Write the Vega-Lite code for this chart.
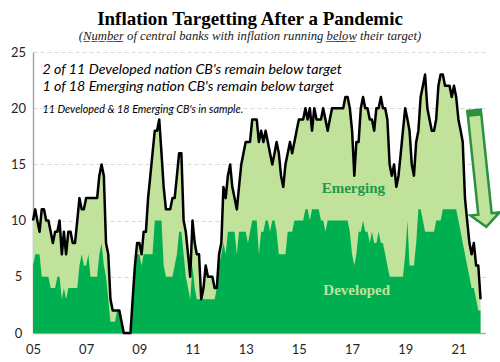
{
  "$schema": "https://vega.github.io/schema/vega-lite/v6.json",
  "width": 452,
  "height": 281,
  "autosize": {"type": "none"},
  "padding": {"left": 33, "top": 52, "right": 15, "bottom": 29},
  "background": "white",
  "config": {"view": {"stroke": null}},
  "title": {
    "text": "Inflation Targetting After a Pandemic",
    "subtitle": "(N̲u̲m̲b̲e̲r̲ of central banks with inflation running b̲e̲l̲o̲w̲ their target)",
    "font": "Liberation Serif",
    "fontSize": 19,
    "fontWeight": "bold",
    "color": "#000000",
    "subtitleFont": "Liberation Serif",
    "subtitleFontStyle": "italic",
    "subtitleFontSize": 12.7,
    "subtitleColor": "#1a1a1a",
    "subtitlePadding": 1,
    "anchor": "middle",
    "offset": 3,
    "dx": -9
  },
  "datasets": {
    "series": [
      {"date": "2005-01-01", "total": 10, "developed": 6},
      {"date": "2005-02-01", "total": 11, "developed": 7},
      {"date": "2005-03-01", "total": 10, "developed": 7},
      {"date": "2005-04-01", "total": 9, "developed": 7},
      {"date": "2005-05-01", "total": 11, "developed": 5},
      {"date": "2005-06-01", "total": 11, "developed": 5},
      {"date": "2005-07-01", "total": 10, "developed": 5},
      {"date": "2005-08-01", "total": 10, "developed": 5},
      {"date": "2005-09-01", "total": 9, "developed": 4},
      {"date": "2005-10-01", "total": 8, "developed": 4},
      {"date": "2005-11-01", "total": 9, "developed": 4},
      {"date": "2005-12-01", "total": 9, "developed": 5},
      {"date": "2006-01-01", "total": 10, "developed": 5},
      {"date": "2006-02-01", "total": 7, "developed": 3},
      {"date": "2006-03-01", "total": 9, "developed": 4},
      {"date": "2006-04-01", "total": 7, "developed": 3},
      {"date": "2006-05-01", "total": 9, "developed": 4},
      {"date": "2006-06-01", "total": 9, "developed": 4},
      {"date": "2006-07-01", "total": 8, "developed": 4},
      {"date": "2006-08-01", "total": 8, "developed": 4},
      {"date": "2006-09-01", "total": 10, "developed": 4},
      {"date": "2006-10-01", "total": 12, "developed": 6},
      {"date": "2006-11-01", "total": 11, "developed": 7},
      {"date": "2006-12-01", "total": 11, "developed": 6},
      {"date": "2007-01-01", "total": 12, "developed": 6},
      {"date": "2007-02-01", "total": 12, "developed": 7},
      {"date": "2007-03-01", "total": 12, "developed": 5},
      {"date": "2007-04-01", "total": 12, "developed": 5},
      {"date": "2007-05-01", "total": 12, "developed": 5},
      {"date": "2007-06-01", "total": 12, "developed": 5},
      {"date": "2007-07-01", "total": 14, "developed": 7},
      {"date": "2007-08-01", "total": 15, "developed": 8},
      {"date": "2007-09-01", "total": 14, "developed": 6},
      {"date": "2007-10-01", "total": 8, "developed": 5},
      {"date": "2007-11-01", "total": 7, "developed": 3},
      {"date": "2007-12-01", "total": 3, "developed": 1},
      {"date": "2008-01-01", "total": 2, "developed": 1},
      {"date": "2008-02-01", "total": 2, "developed": 1},
      {"date": "2008-03-01", "total": 2, "developed": 2},
      {"date": "2008-04-01", "total": 2, "developed": 2},
      {"date": "2008-05-01", "total": 1, "developed": 1},
      {"date": "2008-06-01", "total": 0, "developed": 0},
      {"date": "2008-07-01", "total": 0, "developed": 0},
      {"date": "2008-08-01", "total": 0, "developed": 0},
      {"date": "2008-09-01", "total": 0, "developed": 0},
      {"date": "2008-10-01", "total": 3, "developed": 3},
      {"date": "2008-11-01", "total": 6, "developed": 6},
      {"date": "2008-12-01", "total": 8, "developed": 7},
      {"date": "2009-01-01", "total": 8, "developed": 7},
      {"date": "2009-02-01", "total": 7, "developed": 6},
      {"date": "2009-03-01", "total": 9, "developed": 7},
      {"date": "2009-04-01", "total": 9, "developed": 7},
      {"date": "2009-05-01", "total": 12, "developed": 7},
      {"date": "2009-06-01", "total": 14, "developed": 7},
      {"date": "2009-07-01", "total": 16, "developed": 7},
      {"date": "2009-08-01", "total": 18, "developed": 10},
      {"date": "2009-09-01", "total": 18, "developed": 10},
      {"date": "2009-10-01", "total": 19, "developed": 10},
      {"date": "2009-11-01", "total": 16, "developed": 10},
      {"date": "2009-12-01", "total": 13, "developed": 6},
      {"date": "2010-01-01", "total": 11, "developed": 5},
      {"date": "2010-02-01", "total": 11, "developed": 5},
      {"date": "2010-03-01", "total": 11, "developed": 5},
      {"date": "2010-04-01", "total": 12, "developed": 5},
      {"date": "2010-05-01", "total": 12, "developed": 6},
      {"date": "2010-06-01", "total": 14, "developed": 7},
      {"date": "2010-07-01", "total": 16, "developed": 9},
      {"date": "2010-08-01", "total": 16, "developed": 9},
      {"date": "2010-09-01", "total": 10, "developed": 7},
      {"date": "2010-10-01", "total": 9, "developed": 5},
      {"date": "2010-11-01", "total": 7, "developed": 4},
      {"date": "2010-12-01", "total": 5, "developed": 3},
      {"date": "2011-01-01", "total": 10, "developed": 6},
      {"date": "2011-02-01", "total": 8, "developed": 4},
      {"date": "2011-03-01", "total": 7, "developed": 3},
      {"date": "2011-04-01", "total": 7, "developed": 3},
      {"date": "2011-05-01", "total": 3, "developed": 3},
      {"date": "2011-06-01", "total": 4, "developed": 3},
      {"date": "2011-07-01", "total": 6, "developed": 3},
      {"date": "2011-08-01", "total": 5, "developed": 3},
      {"date": "2011-09-01", "total": 5, "developed": 3},
      {"date": "2011-10-01", "total": 5, "developed": 3},
      {"date": "2011-11-01", "total": 4, "developed": 3},
      {"date": "2011-12-01", "total": 4, "developed": 4},
      {"date": "2012-01-01", "total": 7, "developed": 6},
      {"date": "2012-02-01", "total": 8, "developed": 7},
      {"date": "2012-03-01", "total": 13, "developed": 8},
      {"date": "2012-04-01", "total": 12, "developed": 7},
      {"date": "2012-05-01", "total": 14, "developed": 9},
      {"date": "2012-06-01", "total": 15, "developed": 9},
      {"date": "2012-07-01", "total": 13, "developed": 9},
      {"date": "2012-08-01", "total": 12, "developed": 9},
      {"date": "2012-09-01", "total": 11, "developed": 7},
      {"date": "2012-10-01", "total": 13, "developed": 9},
      {"date": "2012-11-01", "total": 15, "developed": 9},
      {"date": "2012-12-01", "total": 16, "developed": 9},
      {"date": "2013-01-01", "total": 17, "developed": 9},
      {"date": "2013-02-01", "total": 17, "developed": 8},
      {"date": "2013-03-01", "total": 17, "developed": 9},
      {"date": "2013-04-01", "total": 19, "developed": 10},
      {"date": "2013-05-01", "total": 19, "developed": 10},
      {"date": "2013-06-01", "total": 19, "developed": 10},
      {"date": "2013-07-01", "total": 17, "developed": 7},
      {"date": "2013-08-01", "total": 18, "developed": 9},
      {"date": "2013-09-01", "total": 17, "developed": 9},
      {"date": "2013-10-01", "total": 18, "developed": 10},
      {"date": "2013-11-01", "total": 17, "developed": 10},
      {"date": "2013-12-01", "total": 16, "developed": 9},
      {"date": "2014-01-01", "total": 15, "developed": 10},
      {"date": "2014-02-01", "total": 16, "developed": 10},
      {"date": "2014-03-01", "total": 17, "developed": 9},
      {"date": "2014-04-01", "total": 16, "developed": 7},
      {"date": "2014-05-01", "total": 14, "developed": 7},
      {"date": "2014-06-01", "total": 13, "developed": 7},
      {"date": "2014-07-01", "total": 15, "developed": 7},
      {"date": "2014-08-01", "total": 16, "developed": 9},
      {"date": "2014-09-01", "total": 17, "developed": 9},
      {"date": "2014-10-01", "total": 16, "developed": 9},
      {"date": "2014-11-01", "total": 17, "developed": 10},
      {"date": "2014-12-01", "total": 18, "developed": 10},
      {"date": "2015-01-01", "total": 19, "developed": 10},
      {"date": "2015-02-01", "total": 19, "developed": 10},
      {"date": "2015-03-01", "total": 19, "developed": 10},
      {"date": "2015-04-01", "total": 20, "developed": 11},
      {"date": "2015-05-01", "total": 19, "developed": 11},
      {"date": "2015-06-01", "total": 20, "developed": 10},
      {"date": "2015-07-01", "total": 18, "developed": 11},
      {"date": "2015-08-01", "total": 20, "developed": 11},
      {"date": "2015-09-01", "total": 19, "developed": 11},
      {"date": "2015-10-01", "total": 19, "developed": 11},
      {"date": "2015-11-01", "total": 19, "developed": 10},
      {"date": "2015-12-01", "total": 20, "developed": 10},
      {"date": "2016-01-01", "total": 19, "developed": 9},
      {"date": "2016-02-01", "total": 18, "developed": 10},
      {"date": "2016-03-01", "total": 19, "developed": 10},
      {"date": "2016-04-01", "total": 20, "developed": 10},
      {"date": "2016-05-01", "total": 20, "developed": 10},
      {"date": "2016-06-01", "total": 20, "developed": 10},
      {"date": "2016-07-01", "total": 20, "developed": 10},
      {"date": "2016-08-01", "total": 20, "developed": 10},
      {"date": "2016-09-01", "total": 20, "developed": 10},
      {"date": "2016-10-01", "total": 21, "developed": 10},
      {"date": "2016-11-01", "total": 21, "developed": 10},
      {"date": "2016-12-01", "total": 20, "developed": 9},
      {"date": "2017-01-01", "total": 18, "developed": 7},
      {"date": "2017-02-01", "total": 14, "developed": 6},
      {"date": "2017-03-01", "total": 17, "developed": 7},
      {"date": "2017-04-01", "total": 17, "developed": 9},
      {"date": "2017-05-01", "total": 20, "developed": 9},
      {"date": "2017-06-01", "total": 21, "developed": 10},
      {"date": "2017-07-01", "total": 20, "developed": 9},
      {"date": "2017-08-01", "total": 20, "developed": 9},
      {"date": "2017-09-01", "total": 19, "developed": 8},
      {"date": "2017-10-01", "total": 19, "developed": 9},
      {"date": "2017-11-01", "total": 18, "developed": 8},
      {"date": "2017-12-01", "total": 20, "developed": 8},
      {"date": "2018-01-01", "total": 20, "developed": 9},
      {"date": "2018-02-01", "total": 21, "developed": 8},
      {"date": "2018-03-01", "total": 20, "developed": 8},
      {"date": "2018-04-01", "total": 20, "developed": 7},
      {"date": "2018-05-01", "total": 19, "developed": 6},
      {"date": "2018-06-01", "total": 15, "developed": 5},
      {"date": "2018-07-01", "total": 14, "developed": 5},
      {"date": "2018-08-01", "total": 15, "developed": 5},
      {"date": "2018-09-01", "total": 13, "developed": 5},
      {"date": "2018-10-01", "total": 14, "developed": 5},
      {"date": "2018-11-01", "total": 16, "developed": 5},
      {"date": "2018-12-01", "total": 18, "developed": 5},
      {"date": "2019-01-01", "total": 20, "developed": 7},
      {"date": "2019-02-01", "total": 19, "developed": 10},
      {"date": "2019-03-01", "total": 18, "developed": 6},
      {"date": "2019-04-01", "total": 15, "developed": 6},
      {"date": "2019-05-01", "total": 14, "developed": 6},
      {"date": "2019-06-01", "total": 17, "developed": 8},
      {"date": "2019-07-01", "total": 18, "developed": 11},
      {"date": "2019-08-01", "total": 21, "developed": 11},
      {"date": "2019-09-01", "total": 22, "developed": 10},
      {"date": "2019-10-01", "total": 23, "developed": 9},
      {"date": "2019-11-01", "total": 20, "developed": 9},
      {"date": "2019-12-01", "total": 19, "developed": 9},
      {"date": "2020-01-01", "total": 18, "developed": 9},
      {"date": "2020-02-01", "total": 18, "developed": 9},
      {"date": "2020-03-01", "total": 19, "developed": 10},
      {"date": "2020-04-01", "total": 22, "developed": 10},
      {"date": "2020-05-01", "total": 23, "developed": 10},
      {"date": "2020-06-01", "total": 23, "developed": 11},
      {"date": "2020-07-01", "total": 22, "developed": 11},
      {"date": "2020-08-01", "total": 22, "developed": 11},
      {"date": "2020-09-01", "total": 22, "developed": 11},
      {"date": "2020-10-01", "total": 21, "developed": 11},
      {"date": "2020-11-01", "total": 22, "developed": 11},
      {"date": "2020-12-01", "total": 21, "developed": 11},
      {"date": "2021-01-01", "total": 19, "developed": 10},
      {"date": "2021-02-01", "total": 18, "developed": 9},
      {"date": "2021-03-01", "total": 17, "developed": 8},
      {"date": "2021-04-01", "total": 12, "developed": 7},
      {"date": "2021-05-01", "total": 10, "developed": 6},
      {"date": "2021-06-01", "total": 8, "developed": 5},
      {"date": "2021-07-01", "total": 7, "developed": 4},
      {"date": "2021-08-01", "total": 8, "developed": 4},
      {"date": "2021-09-01", "total": 6, "developed": 3},
      {"date": "2021-10-01", "total": 6, "developed": 2},
      {"date": "2021-11-01", "total": 3, "developed": 2}
    ]
  },
  "layer": [
    {
      "data": {"name": "series"},
      "mark": {"type": "area", "color": "#c0e29a", "opacity": 1},
      "encoding": {
        "x": {
          "field": "date", "type": "temporal",
          "scale": {"type": "utc", "domain": [{"year": 2005, "month": 1, "date": 1, "utc": true}, {"year": 2022, "month": 1, "date": 1, "utc": true}]},
          "axis": {
            "title": null,
            "values": [
              {"year": 2005, "month": 1, "date": 1, "utc": true},
              {"year": 2007, "month": 1, "date": 1, "utc": true},
              {"year": 2009, "month": 1, "date": 1, "utc": true},
              {"year": 2011, "month": 1, "date": 1, "utc": true},
              {"year": 2013, "month": 1, "date": 1, "utc": true},
              {"year": 2015, "month": 1, "date": 1, "utc": true},
              {"year": 2017, "month": 1, "date": 1, "utc": true},
              {"year": 2019, "month": 1, "date": 1, "utc": true},
              {"year": 2021, "month": 1, "date": 1, "utc": true}
            ],
            "labelExpr": "utcFormat(datum.value, '%y')",
            "grid": false,
            "ticks": false,
            "domainColor": "#a6a6a6",
            "domainWidth": 1.5,
            "labelFont": "Lato",
            "labelFontSize": 13,
            "labelColor": "#262626",
            "labelPadding": 10,
            "labelFlush": false
          }
        },
        "y": {
          "field": "total", "type": "quantitative",
          "scale": {"domain": [0, 25], "nice": false},
          "axis": {
            "title": null,
            "values": [0, 5, 10, 15, 20, 25],
            "grid": true,
            "gridDash": [4, 3],
            "gridColor": "#d9d9d9",
            "ticks": false,
            "domainColor": "#a6a6a6",
            "domainWidth": 1.5,
            "labelFont": "Lato",
            "labelFontSize": 13,
            "labelColor": "#262626",
            "labelAlign": "center",
            "labelPadding": 15
          }
        }
      }
    },
    {
      "data": {"name": "series"},
      "mark": {"type": "area", "color": "#00b050", "opacity": 1},
      "encoding": {
        "x": {"field": "date", "type": "temporal"},
        "y": {"field": "developed", "type": "quantitative"}
      }
    },
    {
      "data": {"name": "series"},
      "mark": {"type": "line", "color": "#000000", "strokeWidth": 2.5, "strokeJoin": "round"},
      "encoding": {
        "x": {"field": "date", "type": "temporal"},
        "y": {"field": "total", "type": "quantitative"}
      }
    },
    {
      "data": {"values": [
        {"date": "2005-05-10", "value": 23.4, "label": "2 of 11 Developed nation CB's remain below target"},
        {"date": "2005-05-10", "value": 21.9, "label": "1 of 18 Emerging nation CB's remain below target"}
      ]},
      "mark": {"type": "text", "align": "left", "baseline": "middle", "font": "Lato", "fontStyle": "italic", "fontSize": 14.2, "color": "#000000"},
      "encoding": {
        "x": {"field": "date", "type": "temporal"},
        "y": {"field": "value", "type": "quantitative"},
        "text": {"field": "label"}
      }
    },
    {
      "data": {"values": [
        {"date": "2005-05-10", "value": 19.85, "label": "11 Developed & 18 Emerging CB's in sample."}
      ]},
      "mark": {"type": "text", "align": "left", "baseline": "middle", "font": "Lato", "fontStyle": "italic", "fontSize": 10.8, "color": "#000000"},
      "encoding": {
        "x": {"field": "date", "type": "temporal"},
        "y": {"field": "value", "type": "quantitative"},
        "text": {"field": "label"}
      }
    },
    {
      "data": {"values": [
        {"date": "2017-01-18", "value": 12.9, "label": "Emerging"}
      ]},
      "mark": {"type": "text", "align": "center", "baseline": "middle", "font": "Liberation Serif", "fontWeight": "bold", "fontSize": 15, "color": "#1f9a48"},
      "encoding": {
        "x": {"field": "date", "type": "temporal"},
        "y": {"field": "value", "type": "quantitative"},
        "text": {"field": "label"}
      }
    },
    {
      "data": {"values": [
        {"date": "2017-03-05", "value": 3.8, "label": "Developed"}
      ]},
      "mark": {"type": "text", "align": "center", "baseline": "middle", "font": "Liberation Serif", "fontWeight": "bold", "fontSize": 15, "color": "#c0e29a"},
      "encoding": {
        "x": {"field": "date", "type": "temporal"},
        "y": {"field": "value", "type": "quantitative"},
        "text": {"field": "label"}
      }
    },
    {
      "data": {"values": [{"date": "2021-10-27", "value": 14.63}]},
      "mark": {
        "type": "point",
        "shape": "M-0.115,-1 L0.115,-1 L0.115,0.78 L0.25,0.78 L0,1 L-0.25,0.78 L-0.115,0.78 Z",
        "size": 13689,
        "angle": 354,
        "filled": true,
        "fill": "#c0e29a",
        "stroke": "#2a9140",
        "strokeWidth": 2.5,
        "strokeJoin": "miter",
        "opacity": 1
      },
      "encoding": {
        "x": {"field": "date", "type": "temporal"},
        "y": {"field": "value", "type": "quantitative"}
      }
    },
    {
      "data": {"values": [{"date": "2021-10-27", "value": 14.63}]},
      "mark": {
        "type": "point",
        "shape": "M-0.13,-1.01 L0.13,-1.01 L0.13,-0.9 L-0.13,-0.9 Z",
        "size": 13689,
        "angle": 354,
        "filled": true,
        "fill": "#2a9140",
        "strokeWidth": 0,
        "opacity": 1
      },
      "encoding": {
        "x": {"field": "date", "type": "temporal"},
        "y": {"field": "value", "type": "quantitative"}
      }
    }
  ]
}
